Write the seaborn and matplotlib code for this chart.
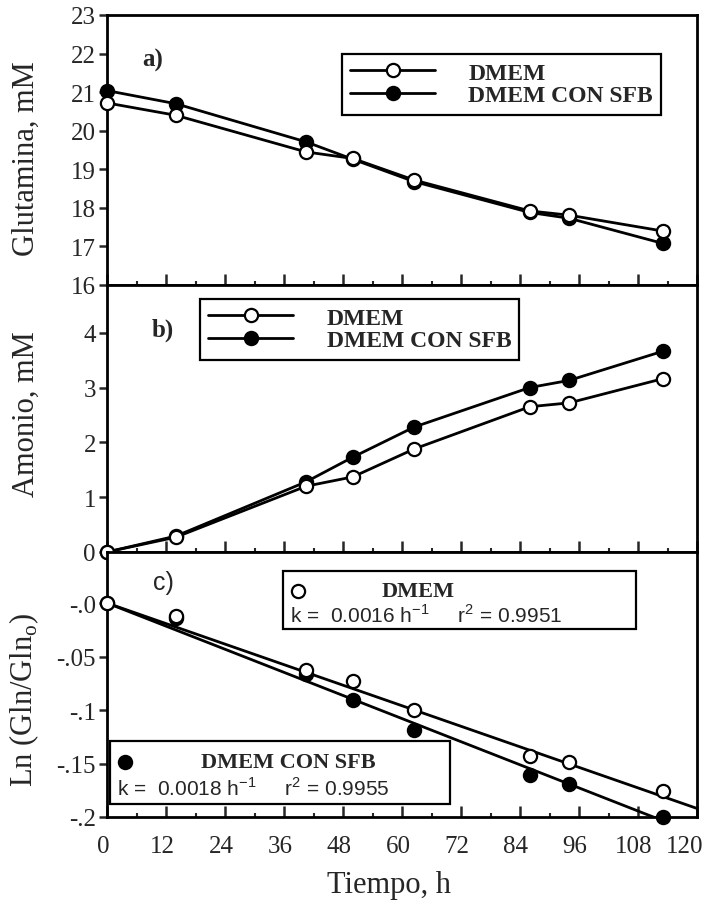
import numpy as np
import pandas as pd
import matplotlib
matplotlib.use("Agg")
import matplotlib.pyplot as plt
import matplotlib.transforms as mtransforms
import seaborn as sns
from matplotlib.lines import Line2D
from matplotlib.patches import Rectangle

# Sampling times (h)
hours = [0, 14, 40.5, 50, 62.5, 86, 94, 113]
series_names = ["DMEM", "DMEM CON SFB"]

# a) Glutamine (mM)
gln_dmem = [20.72, 20.40, 19.45, 19.28, 18.72, 17.92, 17.81, 17.40]
gln_sfb = [21.04, 20.70, 19.71, 19.26, 18.68, 17.88, 17.73, 17.08]

# b) Ammonium (mM)
amm_dmem = [0.0, 0.27, 1.20, 1.37, 1.88, 2.65, 2.72, 3.16]
amm_sfb = [0.0, 0.29, 1.28, 1.73, 2.28, 3.00, 3.13, 3.66]

# c) Ln(Gln/Gln0)
ln_dmem = [0.0, -0.012, -0.063, -0.073, -0.100, -0.143, -0.149, -0.176]
ln_sfb = [0.0, -0.014, -0.066, -0.091, -0.119, -0.161, -0.169, -0.200]

# First-order fits
k_dmem, r2_dmem = 0.0016, 0.9951
k_sfb, r2_sfb = 0.0018, 0.9955

x_ticks = list(range(0, 121, 12))
gln_ticks = list(range(16, 24))
amm_ticks = [0, 1, 2, 3, 4]
ln_ticks = [0.0, -0.05, -0.10, -0.15, -0.20]
ln_tick_labels = ["-.0", "-.05", "-.1", "-.15", "-.2"]

sns.set_theme(style="ticks")
SERIF = ["Liberation Serif", "DejaVu Serif"]
SANS = ["Liberation Sans", "DejaVu Sans"]
plt.rcParams["font.family"] = SERIF
plt.rcParams["axes.linewidth"] = 2.0
plt.rcParams["axes.edgecolor"] = "black"

LW = 2.0
MS = 9.5
MEW = 1.6

fig = plt.figure(figsize=(7.13, 9.03), dpi=100)
left, width = 107 / 713, 590 / 713
ax_a = fig.add_axes([left, 1 - 286 / 903, width, 270 / 903])
ax_b = fig.add_axes([left, 1 - 553 / 903, width, 267 / 903])
ax_c = fig.add_axes([left, 1 - 818 / 903, width, 265 / 903])

df = pd.DataFrame({
    "t": hours * 2,
    "serie": [series_names[0]] * len(hours) + [series_names[1]] * len(hours),
    "gln": gln_dmem + gln_sfb,
    "amm": amm_dmem + amm_sfb,
    "ln": ln_dmem + ln_sfb,
})
d_open = df[df["serie"] == series_names[0]]
d_fill = df[df["serie"] == series_names[1]]

open_style = dict(marker="o", markersize=MS, markerfacecolor="white",
                  markeredgecolor="black", markeredgewidth=MEW)
fill_style = dict(marker="o", markersize=MS, markerfacecolor="black",
                  markeredgecolor="black", markeredgewidth=MEW)


def style_axis(ax, ylim, yticks, yticklabels=None, show_x=False):
    ax.set_xlim(0, 120)
    ax.set_ylim(*ylim)
    ax.set_xticks(x_ticks)
    ax.set_xticks(np.arange(6, 120, 12), minor=True)
    ax.set_yticks(yticks)
    if yticklabels is not None:
        ax.set_yticklabels(yticklabels)
    ax.tick_params(axis="x", which="major", direction="in", length=8, width=1.8,
                   top=False, bottom=True, labelbottom=show_x, labelsize=18, pad=13)
    ax.tick_params(axis="x", which="minor", direction="in", length=3, width=1.5,
                   top=False, bottom=True)
    ax.tick_params(axis="y", which="major", direction="out", length=6, width=1.8,
                   left=True, right=False, labelsize=18, pad=2)
    ax.tick_params(axis="y", which="minor", left=False, right=False)
    for s in ax.spines.values():
        s.set_visible(True)
        s.set_linewidth(2.0)
        s.set_color("black")
    ax.set_xlabel("")
    ax.set_ylabel("")
    ax.grid(False)


def series_legend(ax, anchor):
    handles = [Line2D([], [], color="black", lw=LW, **open_style),
               Line2D([], [], color="black", lw=LW, **fill_style)]
    leg = ax.legend(handles, series_names, loc="upper left", bbox_to_anchor=anchor,
                    frameon=True, fancybox=False, framealpha=1, edgecolor="black",
                    prop={"family": SERIF, "weight": "bold", "size": 17},
                    handlelength=3.6, handletextpad=1.4, labelspacing=0.05,
                    borderpad=0.35, borderaxespad=0)
    leg.get_frame().set_linewidth(1.6)
    return leg


# a) Glutamina
sns.lineplot(data=d_fill, x="t", y="gln", ax=ax_a, color="black", lw=LW,
             estimator=None, clip_on=False, zorder=3, **fill_style)
sns.lineplot(data=d_open, x="t", y="gln", ax=ax_a, color="black", lw=LW,
             estimator=None, clip_on=False, zorder=4, **open_style)
style_axis(ax_a, (16, 23), gln_ticks)
ax_a.set_ylabel("Glutamina, mM", fontsize=22)
ax_a.yaxis.set_label_coords(-0.112, 0.47)
series_legend(ax_a, (0.398, 0.856))
ax_a.text(0.078, 0.837, "a)", transform=ax_a.transAxes, fontsize=18,
          ha="center", va="center", family=SERIF, weight="bold")

# b) Amonio
sns.lineplot(data=d_fill, x="t", y="amm", ax=ax_b, color="black", lw=LW,
             estimator=None, clip_on=False, zorder=3, **fill_style)
sns.lineplot(data=d_open, x="t", y="amm", ax=ax_b, color="black", lw=LW,
             estimator=None, clip_on=False, zorder=4, **open_style)
style_axis(ax_b, (0, 4.87), amm_ticks)
ax_b.set_ylabel("Amonio, mM", fontsize=22)
ax_b.yaxis.set_label_coords(-0.112, 0.52)
series_legend(ax_b, (0.158, 0.948))
ax_b.text(0.095, 0.835, "b)", transform=ax_b.transAxes, fontsize=18,
          ha="center", va="center", family=SERIF, weight="bold")

# c) Ln(Gln/Gln0) with first-order fits
t_fit = np.array([0.0, 120.0])
sns.lineplot(x=t_fit, y=-k_dmem * t_fit, ax=ax_c, color="black", lw=LW, zorder=2)
sns.lineplot(x=t_fit, y=-k_sfb * t_fit, ax=ax_c, color="black", lw=LW, zorder=2)
sns.scatterplot(data=d_fill, x="t", y="ln", ax=ax_c, marker="o", s=MS ** 2,
                color="black", edgecolor="black", linewidth=MEW, zorder=3, clip_on=False)
sns.scatterplot(data=d_open, x="t", y="ln", ax=ax_c, marker="o", s=MS ** 2,
                color="white", edgecolor="black", linewidth=MEW, zorder=4, clip_on=False)
style_axis(ax_c, (-0.2, 0.0477), ln_ticks, ln_tick_labels, show_x=True)
ax_c.set_ylabel("Ln (Gln/Gln$_\\mathregular{o}$)", fontsize=22)
ax_c.yaxis.set_label_coords(-0.112, 0.445)
ax_c.set_xlabel("Tiempo, h", fontsize=22, labelpad=6)
ax_c.xaxis.set_label_coords(0.478, -0.2)
ax_c.xaxis.label.set_va("top")
ax_c.text(0.095, 0.887, "c)", transform=ax_c.transAxes, fontsize=18,
          ha="center", va="center", family=SANS)

# shift the bottom tick labels slightly left; keep the last one inside the figure
shift = mtransforms.ScaledTranslation(-4 / 100, 0, fig.dpi_scale_trans)
for lbl in ax_c.get_xticklabels():
    lbl.set_transform(lbl.get_transform() + shift)
ax_c.get_xticklabels()[-1].set_transform(
    ax_c.get_xticklabels()[-1].get_transform()
    + mtransforms.ScaledTranslation(-8 / 100, 0, fig.dpi_scale_trans))


def fit_box(ax, x0, y0, x1, y1, filled, name, name_x, k, r2):
    ax.add_patch(Rectangle((x0, y0), x1 - x0, y1 - y0, transform=ax.transAxes,
                           facecolor="white", edgecolor="black", lw=1.6, zorder=6,
                           clip_on=False))
    row1 = y0 + (y1 - y0) * 0.66
    row2 = y0 + (y1 - y0) * 0.26
    ax.plot([x0 + 0.025], [row1], transform=ax.transAxes, marker="o", ms=MS,
            mfc="black" if filled else "white", mec="black", mew=MEW,
            zorder=7, clip_on=False)
    ax.text(name_x, row1, name, transform=ax.transAxes, ha="center", va="center",
            family=SERIF, weight="bold", fontsize=16, zorder=7)
    ax.text(x0 + 0.012, row2,
            "k =  %.4f h$^{\\mathregular{-1}}$     r$^{\\mathregular{2}}$ = %.4f" % (k, r2),
            transform=ax.transAxes, ha="left", va="center", family=SANS,
            fontsize=15, zorder=7)


fit_box(ax_c, 0.298, 0.709, 0.897, 0.928, False, series_names[0], 0.527, k_dmem, r2_dmem)
fit_box(ax_c, 0.005, 0.049, 0.581, 0.287, True, series_names[1], 0.307, k_sfb, r2_sfb)

ax_c.legend_ = None

fig.savefig("out.png", dpi=100)
